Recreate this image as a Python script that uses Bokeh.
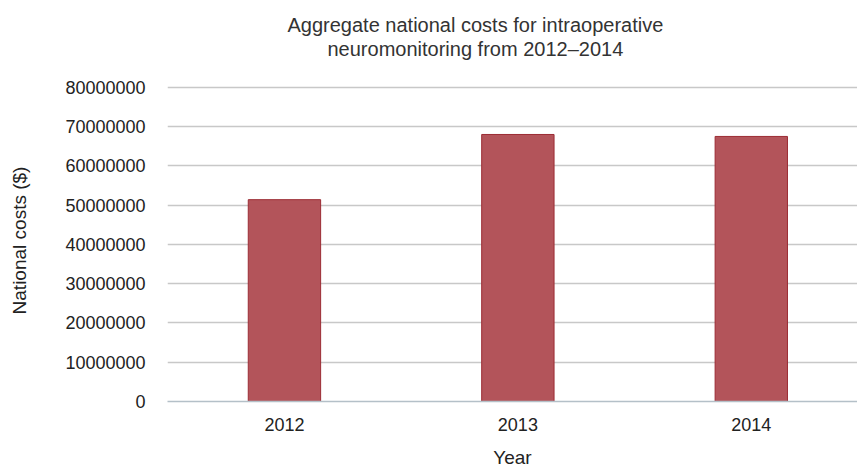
from bokeh.plotting import figure
from bokeh.models import Range1d, FixedTicker, Title, ColumnDataSource
from bokeh.embed import file_html
from bokeh.resources import INLINE

years = [2012, 2013, 2014]
year_labels = ["2012", "2013", "2014"]
costs = [51400000, 68000000, 67500000]
y_ticks = [0, 10000000, 20000000, 30000000, 40000000, 50000000, 60000000, 70000000, 80000000]

title_lines = ["Aggregate national costs for intraoperative", "neuromonitoring from 2012\u20132014"]

FONT = "Liberation Sans"

src = ColumnDataSource(data=dict(x=years, top=costs))

p = figure(width=857, height=471, output_backend="svg", toolbar_location=None,
           x_range=Range1d(2011.499, 2014.455), y_range=Range1d(0, 82000000),
           min_border_left=167, min_border_right=0, min_border_top=79, min_border_bottom=70)
p.outline_line_color = None
p.background_fill_color = "white"
p.border_fill_color = "white"

p.vbar(x="x", top="top", width=0.31, bottom=0, source=src,
       fill_color="#b3545a", line_color="#9c2c34", line_width=1)

p.xaxis.ticker = FixedTicker(ticks=years)
p.xaxis.major_label_overrides = {y: l for y, l in zip(years, year_labels)}
p.yaxis.ticker = FixedTicker(ticks=y_ticks)
p.yaxis.formatter.use_scientific = False

for ax in (p.xaxis[0], p.yaxis[0]):
    ax.major_tick_line_color = None
    ax.minor_tick_line_color = None
    ax.major_label_text_font = FONT
    ax.major_label_text_font_size = "18px"
    ax.major_label_text_color = "#222222"
    ax.axis_label_text_font = FONT
    ax.axis_label_text_font_size = "19px"
    ax.axis_label_text_font_style = "normal"
    ax.axis_label_text_color = "#222222"

p.yaxis.axis_line_color = None
p.xaxis.axis_line_color = "#b4c0c8"
p.xaxis.axis_line_width = 1.5
p.xaxis.axis_label = "Year"
p.yaxis.axis_label = "National costs ($)"
p.xaxis.major_label_standoff = 10
p.xaxis.axis_label_standoff = 13
p.yaxis.major_label_standoff = 16
p.yaxis.axis_label_standoff = 32

p.xgrid.grid_line_color = None
p.ygrid.grid_line_color = "#c8c8c8"
p.ygrid.grid_line_width = 1.5

# spacer, then second line, then first line (panels stack upward from the plot)
p.add_layout(Title(text=" ", align="left", standoff=2,
                   text_font=FONT, text_font_size="14px", text_color="white"), "above")
p.add_layout(Title(text=title_lines[1], align="left", offset=160, standoff=0,
                   text_font=FONT, text_font_size="20px", text_font_style="normal",
                   text_color="#333333"), "above")
p.add_layout(Title(text=title_lines[0], align="left", offset=120, standoff=0,
                   text_font=FONT, text_font_size="20px", text_font_style="normal",
                   text_color="#333333"), "above")

open("out.html", "w").write(file_html(p, INLINE))
